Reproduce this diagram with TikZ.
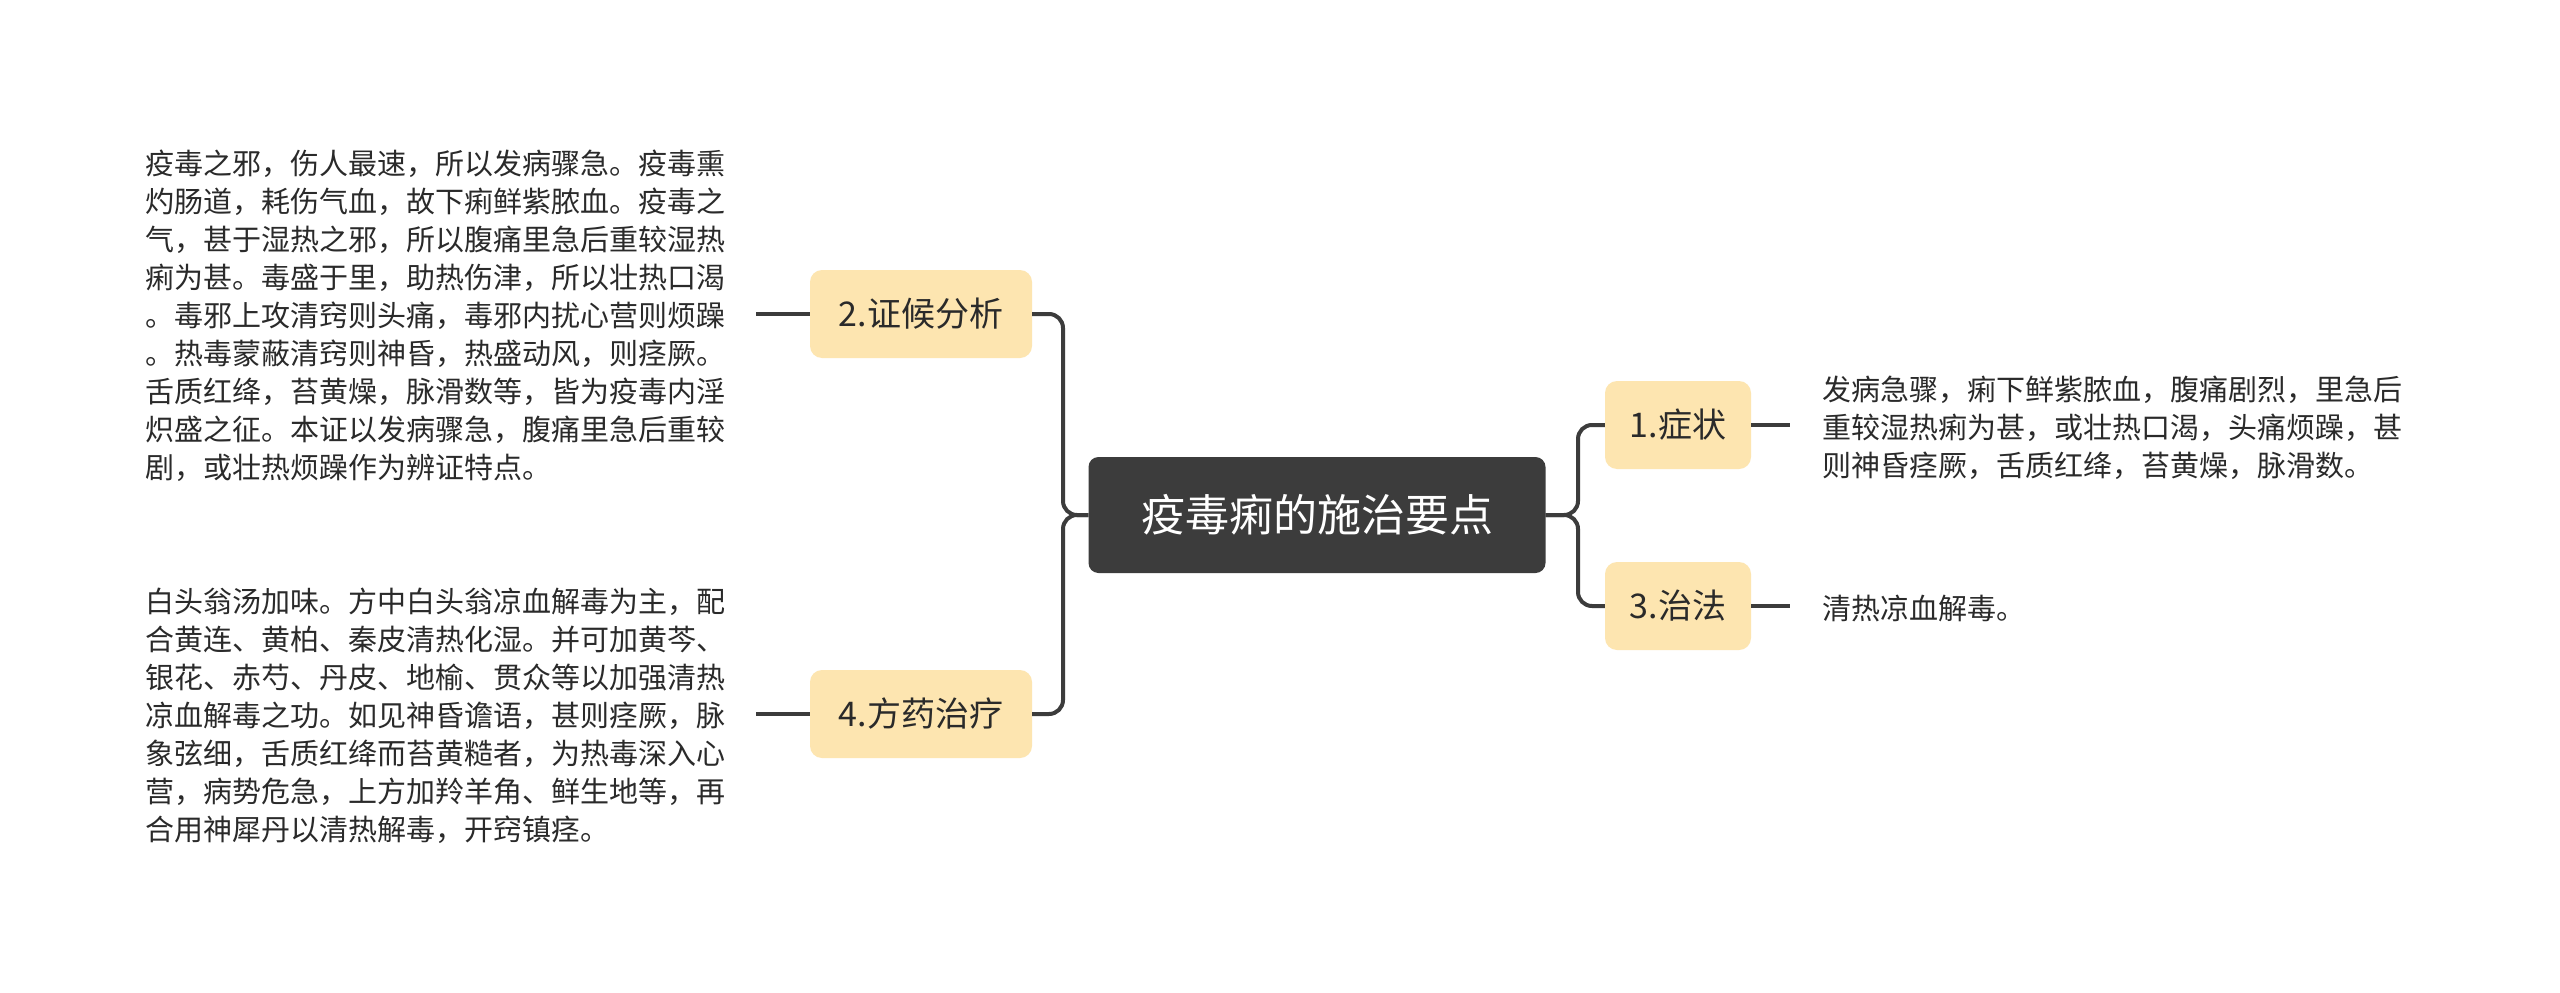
\documentclass[tikz,border=0pt]{standalone}
\usepackage{fontspec}
\setmainfont{Noto Sans CJK SC}
\begin{document}
\begin{tikzpicture}[x=1pt,y=-1pt,
  sub/.style={fill=boxc,rounded corners=12pt,minimum width=222pt,minimum height=88pt,inner sep=0pt,font=\fontsize{34}{40}\selectfont,text=txt},
  sub2/.style={sub,minimum width=146pt},
  body/.style={align=left,inner sep=0pt,font=\fontsize{29}{38}\selectfont,text=txt},
  conn/.style={draw=lnc,line width=4pt,rounded corners=14pt}]
\definecolor{boxc}{HTML}{FDE5B0}
\definecolor{lnc}{HTML}{3C3C3C}
\definecolor{txt}{HTML}{2A2A2A}
\useasboundingbox (0,0) rectangle (2560,993);
\fill[white] (0,0) rectangle (2560,993);
\node[fill=lnc,rounded corners=10pt,minimum width=457pt,minimum height=116pt,text=white,font=\fontsize{44}{50}\selectfont,inner sep=0pt] (c) at (1317,515) {疫毒痢的施治要点};
\node[sub] (a2) at (921,314) {2.证候分析};
\node[sub] (a4) at (921,714) {4.方药治疗};
\node[sub2] (a1) at (1678,425) {1.症状};
\node[sub2] (a3) at (1678,606) {3.治法};
\node[body,anchor=west] (t2) at (145,316) {疫毒之邪，伤人最速，所以发病骤急。疫毒熏\\灼肠道，耗伤气血，故下痢鲜紫脓血。疫毒之\\气，甚于湿热之邪，所以腹痛里急后重较湿热\\痢为甚。毒盛于里，助热伤津，所以壮热口渴\\。毒邪上攻清窍则头痛，毒邪内扰心营则烦躁\\。热毒蒙蔽清窍则神昏，热盛动风，则痉厥。\\舌质红绛，苔黄燥，脉滑数等，皆为疫毒内淫\\炽盛之征。本证以发病骤急，腹痛里急后重较\\剧，或壮热烦躁作为辨证特点。};
\node[body,anchor=west] (t4) at (145,716) {白头翁汤加味。方中白头翁凉血解毒为主，配\\合黄连、黄柏、秦皮清热化湿。并可加黄芩、\\银花、赤芍、丹皮、地榆、贯众等以加强清热\\凉血解毒之功。如见神昏谵语，甚则痉厥，脉\\象弦细，舌质红绛而苔黄糙者，为热毒深入心\\营，病势危急，上方加羚羊角、鲜生地等，再\\合用神犀丹以清热解毒，开窍镇痉。};
\node[body,anchor=west] (t1) at (1822,428) {发病急骤，痢下鲜紫脓血，腹痛剧烈，里急后\\重较湿热痢为甚，或壮热口渴，头痛烦躁，甚\\则神昏痉厥，舌质红绛，苔黄燥，脉滑数。};
\node[body,anchor=west] (t3) at (1822,609) {清热凉血解毒。};
\draw[conn] (c.west) -- (1063,515) |- (a2.east);
\draw[conn] (c.west) -- (1063,515) |- (a4.east);
\draw[conn] (c.east) -- (1578,515) |- (a1.west);
\draw[conn] (c.east) -- (1578,515) |- (a3.west);
\draw[conn] (a2.west) -- (756,314);
\draw[conn] (a4.west) -- (756,714);
\draw[conn] (a1.east) -- (1790,425);
\draw[conn] (a3.east) -- (1790,606);
\end{tikzpicture}
\end{document}
